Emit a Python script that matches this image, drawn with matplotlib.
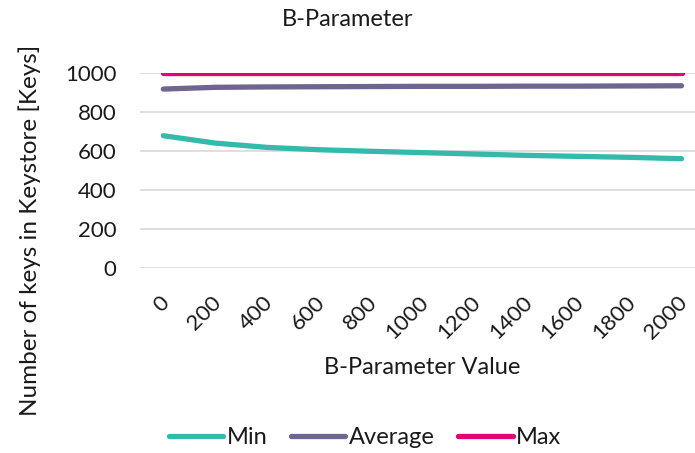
import matplotlib
matplotlib.use("Agg")
import matplotlib.pyplot as plt
import matplotlib.transforms as mtransforms

plt.rcParams['font.family'] = ['Lato', 'DejaVu Sans']

b_values = [0, 200, 400, 600, 800, 1000, 1200, 1400, 1600, 1800, 2000]
keys_min = [677, 639, 617, 605, 597, 590, 583, 576, 571, 566, 559]
keys_avg = [916, 925, 927, 928, 929, 930, 930, 931, 931, 932, 933]
keys_max = [1000, 1000, 1000, 1000, 1000, 1000, 1000, 1000, 1000, 1000, 1000]

c_min = '#35b9ab'
c_avg = '#6e6590'
c_max = '#e20074'
txt = '#1a1a1a'

W, H = 695, 453
fig = plt.figure(figsize=(W / 100, H / 100), dpi=100)
ax = fig.add_axes([140 / W, (H - 267.7) / H, (W - 140) / W, 195 / H])

xs = list(range(len(b_values)))
ax.plot(xs, keys_min, color=c_min, lw=3.8, solid_capstyle='round', label='Min')
ax.plot(xs, keys_avg, color=c_avg, lw=3.8, solid_capstyle='round', label='Average')
ax.plot(xs, keys_max, color=c_max, lw=3.8, solid_capstyle='round', label='Max')

ax.set_xlim(-0.45, 10.26)
ax.set_ylim(0, 1000)
ax.set_yticks(range(0, 1001, 200))
ax.tick_params(axis='y', length=0, pad=17, labelsize=16, labelcolor=txt)
ax.set_xticks(xs)
ax.set_xticklabels([str(v) for v in b_values], rotation=45, ha='right', va='center',
                   rotation_mode='anchor', fontsize=16, color=txt)
ax.tick_params(axis='x', length=0, pad=23)
shift = mtransforms.ScaledTranslation(3 / 100, 0, fig.dpi_scale_trans)
for lbl in ax.get_xticklabels():
    lbl.set_transform(lbl.get_transform() + shift)

ax.grid(axis='y', color='#d9d9d9', lw=1.2)
ax.set_axisbelow(True)
for s in ax.spines.values():
    s.set_visible(False)

fig.text(348 / W, 1 - 20 / H, 'B-Parameter', ha='center', va='center', fontsize=17, color=txt)
fig.text(422 / W, 1 - 368 / H, 'B-Parameter Value', ha='center', va='center', fontsize=17, color=txt)
fig.text(30 / W, 1 - 230 / H, 'Number of keys in Keystore [Keys]', rotation=90,
         ha='center', va='center', fontsize=17.5, color=txt)

fig.legend(loc='center', bbox_to_anchor=(365 / W, 1 - 438 / H), ncol=3, frameon=False,
           fontsize=17, handlelength=2.3, handletextpad=0.15, columnspacing=1.0,
           labelcolor=txt)

fig.savefig('out.png', dpi=100)
